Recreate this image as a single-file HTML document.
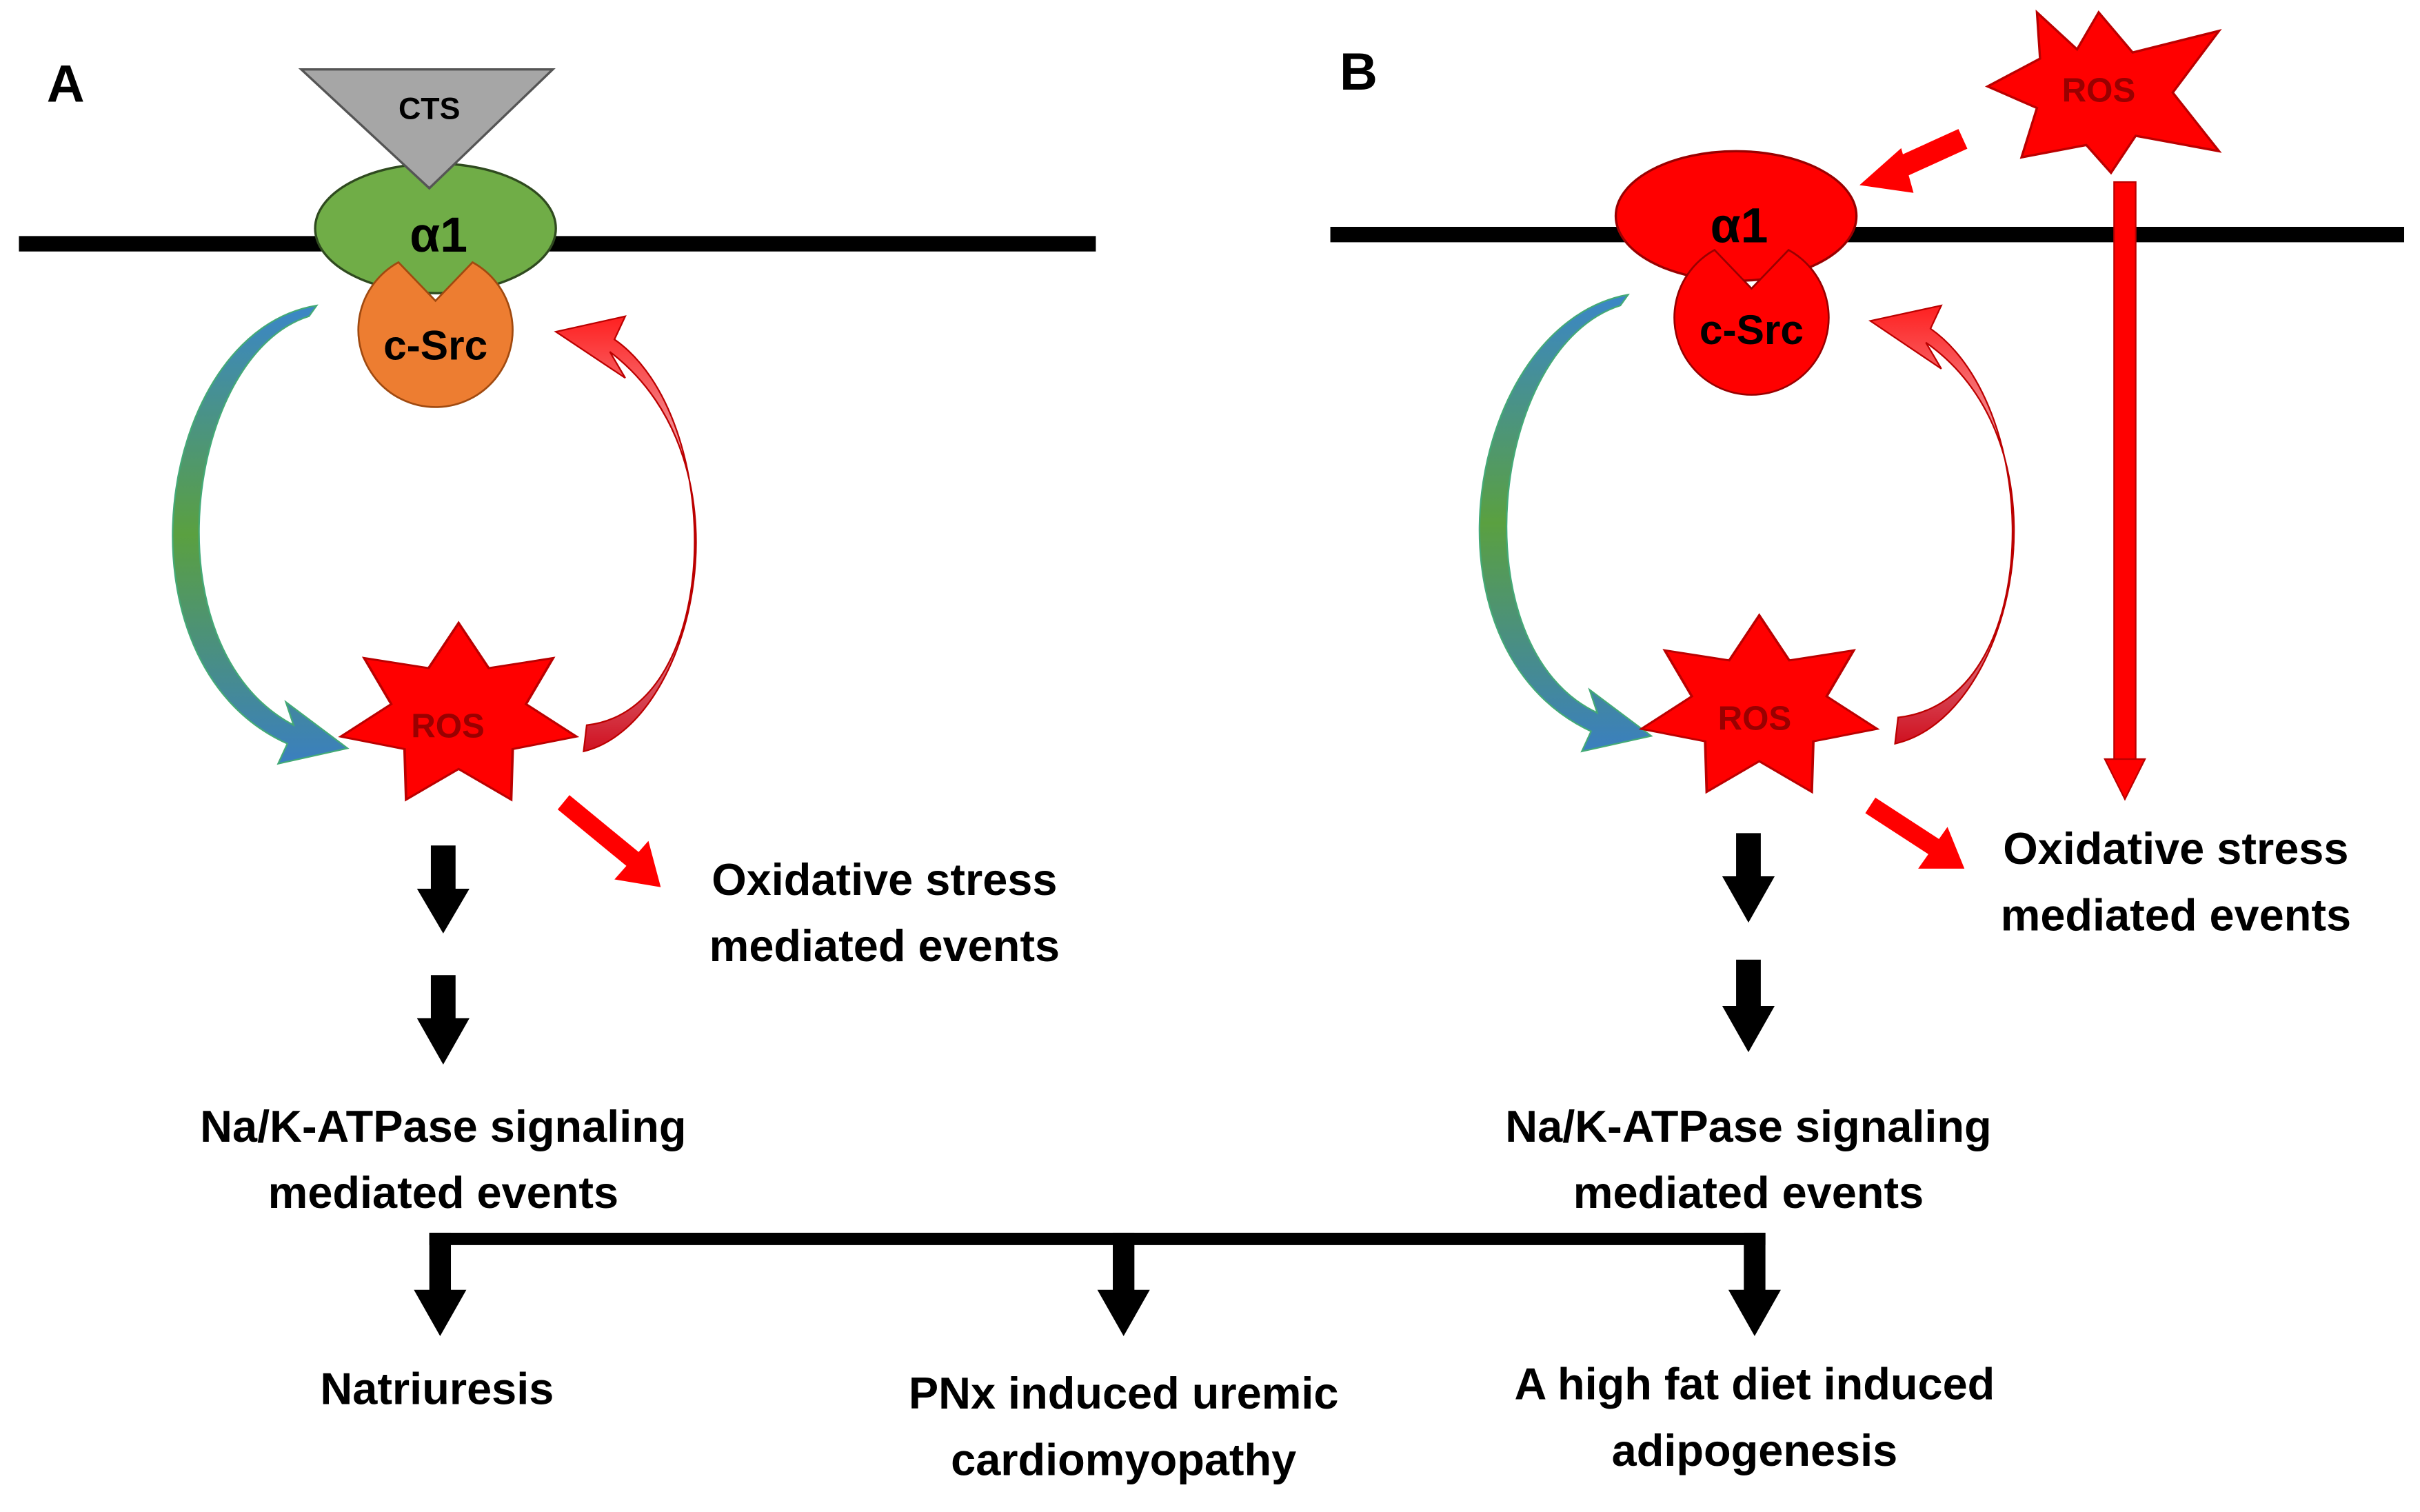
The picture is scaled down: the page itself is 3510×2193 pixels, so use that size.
<!DOCTYPE html>
<html><head><meta charset="utf-8"><style>
html,body{margin:0;padding:0;background:#fff;}
svg{display:block;}
text{font-family:"Liberation Sans",sans-serif;font-weight:bold;}
</style></head><body>
<svg width="3510" height="2193" viewBox="0 0 1568 980" xmlns="http://www.w3.org/2000/svg">
<defs>
<linearGradient id="gb" x1="0" y1="0" x2="0" y2="1">
<stop offset="0" stop-color="#3a86c8"/><stop offset="0.5" stop-color="#5aa040"/><stop offset="1" stop-color="#3a7fc0"/>
</linearGradient>
<linearGradient id="gr" x1="0" y1="0" x2="0" y2="1">
<stop offset="0" stop-color="#ff2020"/><stop offset="0.5" stop-color="#e8e8f0"/><stop offset="1" stop-color="#d01020"/>
</linearGradient>
</defs>
<rect width="1568" height="980" fill="#fff"/>

<!-- Panel A -->
<text x="30" y="66" font-size="34" fill="#000">A</text>
<line x1="12" y1="158" x2="710" y2="158" stroke="#000" stroke-width="10"/>
<ellipse cx="282" cy="148" rx="78" ry="42" fill="#70ad47" stroke="#2f4a1f" stroke-width="1.5"/>
<polygon points="195,45 358,45 278,122" fill="#a6a6a6" stroke="#555" stroke-width="1.5"/>
<text x="278" y="77" font-size="20" fill="#000" text-anchor="middle">CTS</text>
<text x="284" y="163" font-size="32" fill="#000" text-anchor="middle">α1</text>
<path d="M258,170 A50,50 0 1 0 306,170 L282,195 Z" fill="#ed7d31" stroke="#a04a10" stroke-width="1.2"/>
<text x="282" y="233" font-size="27" fill="#000" text-anchor="middle">c-Src</text>

<path d="M200,205 C120,230 95,420 190,470 L185,455 L225,485 L180,495 L186,482 C70,430 100,215 205,198 Z" fill="url(#gb)" stroke="#4a7" stroke-width="1"/>
<path d="M378,487 C450,470 490,300 395,228 L405,245 L360,215 L405,205 L398,220 C470,270 470,460 380,470 Z" fill="url(#gr)" stroke="#b00" stroke-width="1"/>

<g transform="translate(297,464) scale(1.12,0.86)">
<polygon fill="#ff0000" stroke="#b00" stroke-width="1.5" points="0,-70 17.4,-36 54.7,-43.6 39,-8.9 68.2,15.6 31.3,25 30.4,63.1 0,40 -30.4,63.1 -31.3,25 -68.2,15.6 -39,-8.9 -54.7,-43.6 -17.4,-36"/>
</g>
<text x="290" y="478" font-size="22" fill="#900" text-anchor="middle">ROS</text>
<line x1="365" y1="520" x2="410" y2="557" stroke="#ff0000" stroke-width="12"/>
<polygon points="398,570 428,575 420,545" fill="#ff0000"/>

<g fill="#000">
<rect x="279" y="548" width="16" height="30"/><polygon points="270,576 304,576 287,605"/>
<rect x="279" y="632" width="16" height="30"/><polygon points="270,660 304,660 287,690"/>
<rect x="1125" y="540" width="16" height="30"/><polygon points="1116,568 1150,568 1133,598"/>
<rect x="1125" y="622" width="16" height="30"/><polygon points="1116,652 1150,652 1133,682"/>
</g>

<g font-size="29" fill="#000" text-anchor="middle">
<text x="573" y="580">Oxidative stress</text>
<text x="573" y="623">mediated events</text>
<text x="287" y="740">Na/K-ATPase signaling</text>
<text x="287" y="783">mediated events</text>
<text x="1133" y="740">Na/K-ATPase signaling</text>
<text x="1133" y="783">mediated events</text>
<text x="1410" y="560">Oxidative stress</text>
<text x="1410" y="603">mediated events</text>
<text x="283" y="910">Natriuresis</text>
<text x="728" y="913">PNx induced uremic</text>
<text x="728" y="956">cardiomyopathy</text>
<text x="1137" y="907">A high fat diet induced</text>
<text x="1137" y="950">adipogenesis</text>
</g>

<!-- bracket -->
<g fill="#000">
<rect x="278" y="799" width="866" height="8"/>
<rect x="278" y="799" width="14" height="40"/><polygon points="268,836 302,836 285,866"/>
<rect x="721" y="799" width="14" height="40"/><polygon points="711,836 745,836 728,866"/>
<rect x="1130" y="799" width="14" height="40"/><polygon points="1120,836 1154,836 1137,866"/>
</g>

<!-- Panel B -->
<text x="868" y="58" font-size="34" fill="#000">B</text>
<line x1="862" y1="152" x2="1558" y2="152" stroke="#000" stroke-width="10"/>
<ellipse cx="1125" cy="140" rx="78" ry="42" fill="#ff0000" stroke="#900" stroke-width="1.5"/>
<text x="1127" y="157" font-size="32" fill="#000" text-anchor="middle">α1</text>
<path d="M1111,162 A50,50 0 1 0 1159,162 L1135,187 Z" fill="#ff0000" stroke="#900" stroke-width="1.2"/>
<text x="1135" y="223" font-size="27" fill="#000" text-anchor="middle">c-Src</text>

<path d="M1050,198 C965,225 945,420 1035,462 L1030,447 L1070,477 L1025,487 L1031,474 C915,420 950,210 1055,191 Z" fill="url(#gb)" stroke="#4a7" stroke-width="1"/>
<path d="M1228,482 C1305,465 1345,290 1248,222 L1258,239 L1212,208 L1258,198 L1251,213 C1325,265 1325,455 1230,465 Z" fill="url(#gr)" stroke="#b00" stroke-width="1"/>

<g transform="translate(1140,459) scale(1.12,0.86)">
<polygon fill="#ff0000" stroke="#b00" stroke-width="1.5" points="0,-70 17.4,-36 54.7,-43.6 39,-8.9 68.2,15.6 31.3,25 30.4,63.1 0,40 -30.4,63.1 -31.3,25 -68.2,15.6 -39,-8.9 -54.7,-43.6 -17.4,-36"/>
</g>
<text x="1137" y="473" font-size="22" fill="#900" text-anchor="middle">ROS</text>
<g transform="translate(1360,60)">
<polygon fill="#ff0000" stroke="#b00" stroke-width="1.5" points="0,-52 22,-26 78,-40 48,0 78,38 24,28 8,52 -8,34 -50,42 -40,10 -72,-4 -38,-22 -40,-52 -14,-28"/>
<text x="0" y="6" font-size="22" fill="#900" text-anchor="middle">ROS</text>
</g>
<line x1="1272" y1="90" x2="1228" y2="110" stroke="#ff0000" stroke-width="14"/>
<polygon points="1205,120 1232,96 1240,125" fill="#ff0000"/>
<rect x="1370" y="118" width="14" height="375" fill="#ff0000" stroke="#b00" stroke-width="1"/>
<polygon points="1364,492 1390,492 1377,518" fill="#ff0000" stroke="#b00" stroke-width="1"/>
<line x1="1212" y1="522" x2="1255" y2="550" stroke="#ff0000" stroke-width="12"/>
<polygon points="1243,563 1273,563 1262,536" fill="#ff0000"/>
</svg>
</body></html>
